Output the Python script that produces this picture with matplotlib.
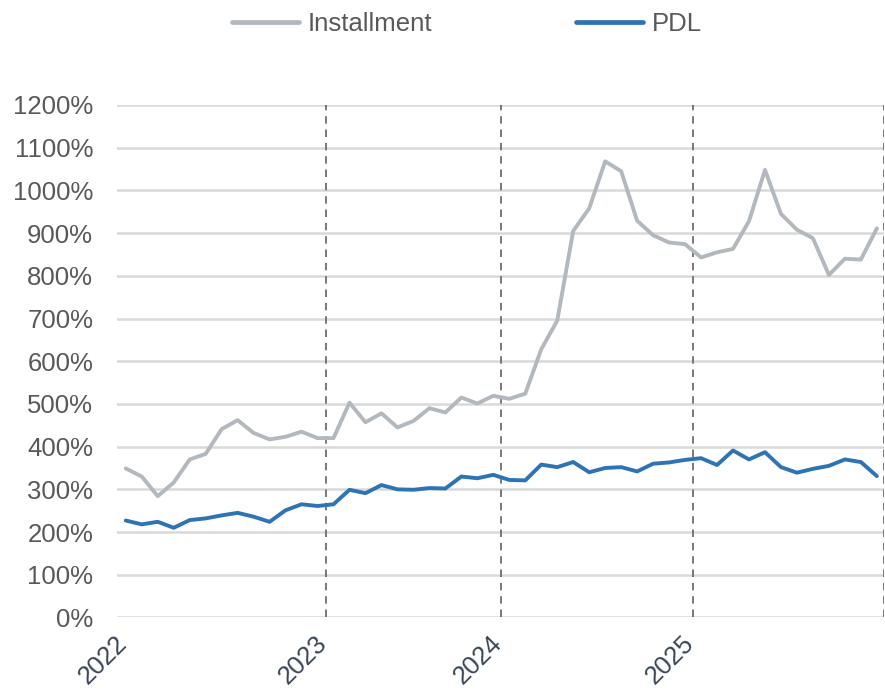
import numpy as np
import matplotlib
matplotlib.use("Agg")
import matplotlib.pyplot as plt
from matplotlib.ticker import FuncFormatter
from matplotlib.transforms import ScaledTranslation

# monthly readings, Jan 2022 .. Dec 2025 (percent)
installment = [349, 330, 284, 316, 370, 383, 441, 462, 432, 417, 423, 435,
               420, 420, 503, 457, 478, 445, 460, 490, 480, 515, 501, 519,
               512, 524, 628, 695, 905, 958, 1068, 1045, 929, 895, 878, 874,
               843, 855, 863, 928, 1048, 945, 908, 888, 802, 840, 838, 911]
pdl = [227, 218, 224, 210, 228, 232, 239, 245, 236, 224, 251, 265,
       261, 265, 299, 291, 310, 300, 299, 303, 302, 330, 326, 334,
       322, 321, 358, 352, 364, 340, 350, 352, 342, 360, 363, 369,
       373, 357, 391, 370, 387, 352, 339, 348, 355, 370, 364, 331]
years = ["2022", "2023", "2024", "2025"]

# category positions where each year starts
year_pos = [0, 12.5, 23.5, 35.5]
end_pos = 47.45

plt.rcParams['font.family'] = ['Liberation Sans', 'DejaVu Sans']

fig = plt.figure(figsize=(8.85, 6.93), dpi=100)
ax = fig.add_axes([0.132, 0.109, 0.9989 - 0.132, 0.7395])

x = np.arange(len(pdl))
ax.plot(x, installment, color='#b2b8bd', lw=2.8, solid_joinstyle='round',
        solid_capstyle='round', label='Installment', zorder=3)
ax.plot(x, pdl, color='#2e74b5', lw=2.8, solid_joinstyle='round',
        solid_capstyle='round', label='PDL', zorder=4)

# dashed year separators
for p in year_pos[1:] + [end_pos]:
    ax.axvline(p, color='#6b605d', lw=1.2, ls=(0, (4.5, 3.5)), zorder=2)

ax.set_ylim(0, 1200)
ax.set_xlim(-0.56, end_pos)
ax.set_yticks(range(0, 1201, 100))
ax.yaxis.set_major_formatter(FuncFormatter(lambda v, _: f"{int(v)}%"))
ax.grid(axis='y', color='#d9d9d9', lw=1.8, zorder=1)
ax.set_axisbelow(True)

ax.set_xticks(year_pos)
ax.set_xticklabels(years, rotation=45, ha='right', rotation_mode='anchor',
                   fontsize=18.5, color='#3a4555')
ax.tick_params(axis='x', length=0, pad=10)
ax.tick_params(axis='y', length=0, pad=17, labelsize=18.5, labelcolor='#595959')
shift = ScaledTranslation(-8 / 72, 0, fig.dpi_scale_trans)
for lbl in ax.get_xticklabels():
    lbl.set_transform(lbl.get_transform() + shift)

for s in ax.spines.values():
    s.set_visible(False)

leg = fig.legend(loc='center', bbox_to_anchor=(0.528, 0.965), ncol=2,
                 frameon=False, fontsize=18.5, handlelength=2.6,
                 handletextpad=0.35, columnspacing=5.6)
for t in leg.get_texts():
    t.set_color('#595959')
for h in leg.legend_handles:
    h.set_linewidth(3.4)

fig.savefig("out.png", dpi=100)
